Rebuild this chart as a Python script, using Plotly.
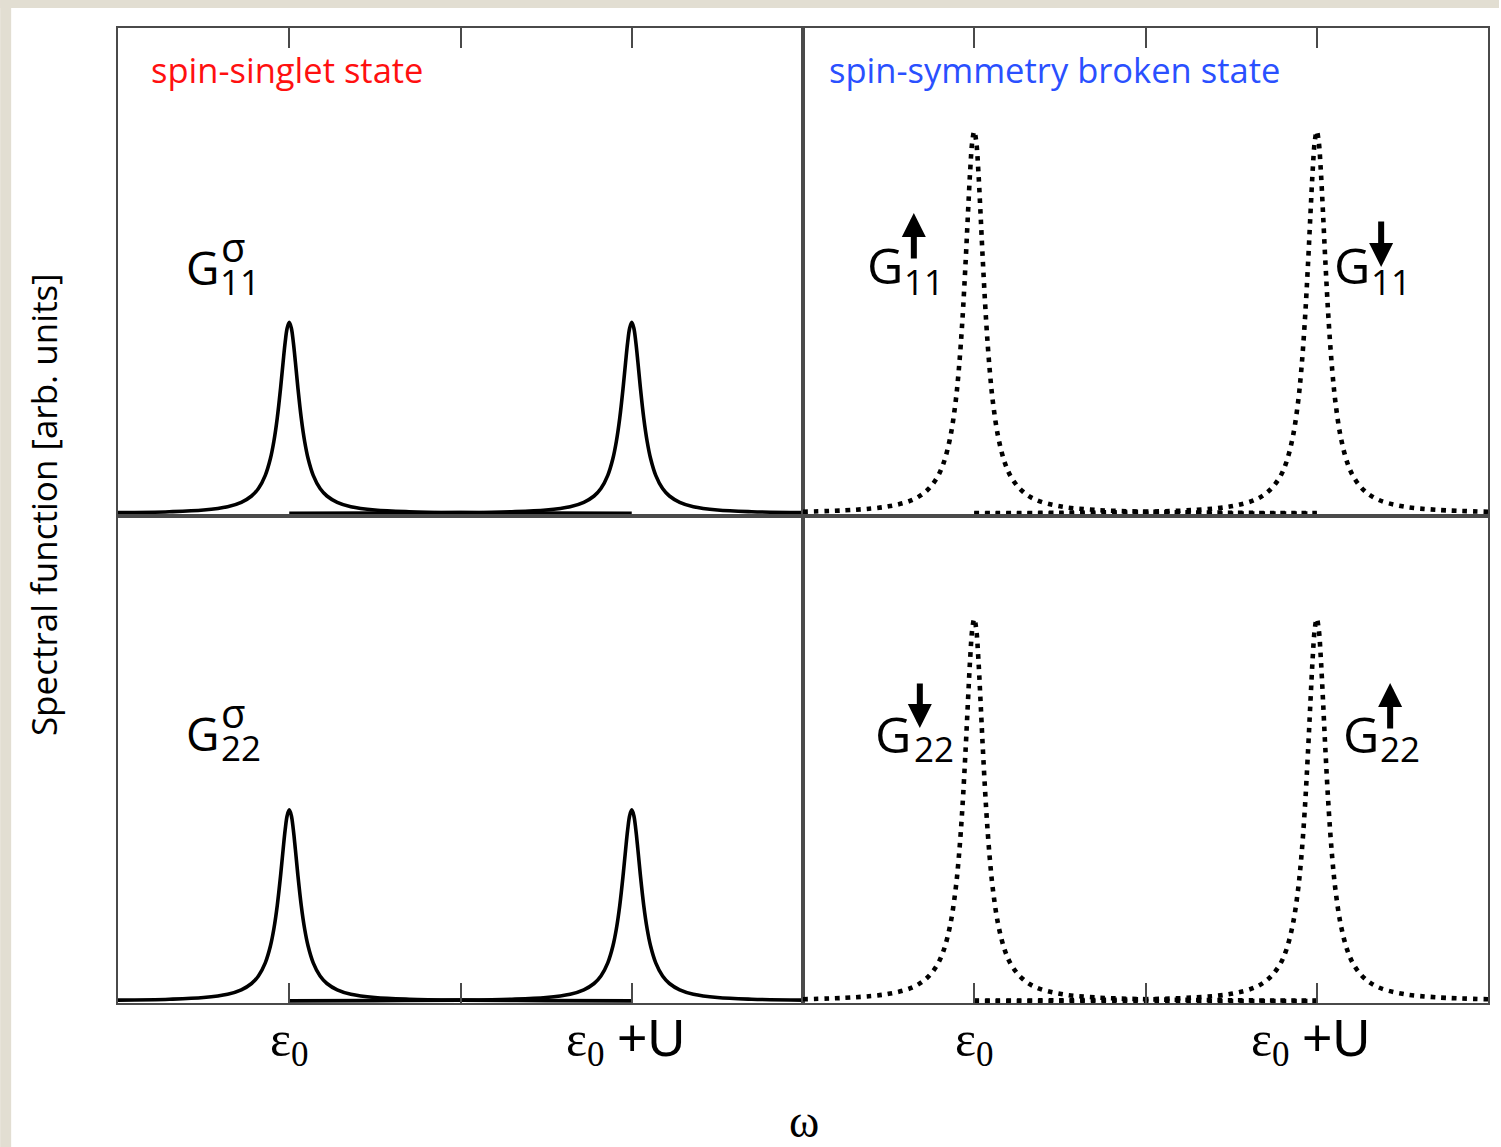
import plotly.graph_objects as go

# ---------------- data ----------------
# peak line-shape: offset from peak centre (units of U) -> fraction of peak height
profile_offset = [0.0, 0.006, 0.012, 0.018, 0.025, 0.035, 0.045, 0.055, 0.07, 0.09,
                  0.11, 0.14, 0.18, 0.25, 0.35, 0.5, 0.75, 1.0]
profile_frac = [1.0, 0.971, 0.895, 0.791, 0.662, 0.5, 0.377, 0.288, 0.2, 0.131,
                0.092, 0.059, 0.036, 0.019, 0.0099, 0.0049, 0.0022, 0.0012]

peak_centers = [0.0, 1.0]          # eps0 and eps0+U (in units of U)
singlet_heights = [0.5, 0.5]       # spin-singlet: half weight in each peak
broken_heights = [1.0, 1.0]        # spin-symmetry broken: full weight
peak_left_extent = [0.5, 1.0]
peak_right_extent = [1.0, 0.5]
flat_x = [0.0, 1.0]
flat_y = [0.0, 0.0]

tick_vals = [0.0, 0.5, 1.0]
tick_text = ["ε<sub>0</sub>", "",
             "ε<sub>0</sub> <span style='font-family:Liberation Sans, Arial;font-size:52px'>+U</span>&nbsp;"]
x_range = [-0.5, 1.5]
y_range = [-0.005, 1.27]


def peak_curve(center, height, left, right):
    xs, ys = [], []
    for o, f in zip(reversed(profile_offset), reversed(profile_frac)):
        if o <= left + 1e-9 and o > 0:
            xs.append(center - o)
            ys.append(height * f)
    for o, f in zip(profile_offset, profile_frac):
        if o <= right + 1e-9:
            xs.append(center + o)
            ys.append(height * f)
    return xs, ys


# ---------------- figure ----------------
W, H = 1501, 1147
L, R, T, B = 118, 11, 28, 144
PW, PH = W - L - R, H - T - B


def px(x):
    return (x - L) / PW


def py(y):
    return (H - B - y) / PH


fig = go.Figure()

solid = dict(color="black", width=3.6)
dotted = dict(color="black", width=4.6, dash="4.6px,6px")

for xa, ya in [("x", "y"), ("x3", "y3")]:
    for c, h, le, ri in zip(peak_centers, singlet_heights, peak_left_extent, peak_right_extent):
        xs, ys = peak_curve(c, h, le, ri)
        fig.add_trace(go.Scatter(x=xs, y=ys, mode="lines", line=solid, line_shape="spline",
                                 xaxis=xa, yaxis=ya, showlegend=False, hoverinfo="skip"))

for xa, ya in [("x2", "y2"), ("x4", "y4")]:
    fig.add_trace(go.Scatter(x=flat_x, y=flat_y, mode="lines", line=dotted,
                             xaxis=xa, yaxis=ya, showlegend=False, hoverinfo="skip"))
    for c, h, le, ri in zip(peak_centers, broken_heights, peak_left_extent, peak_right_extent):
        xs, ys = peak_curve(c, h, le, ri)
        fig.add_trace(go.Scatter(x=xs, y=ys, mode="lines", line=dotted, line_shape="spline",
                                 xaxis=xa, yaxis=ya, showlegend=False, hoverinfo="skip"))

frame = dict(showline=True, mirror=True, linecolor="#4a4a4a", linewidth=1.5,
             showgrid=False, zeroline=False)
xcommon = dict(range=x_range, tickvals=tick_vals, ticks="inside", ticklen=20,
               tickcolor="#4a4a4a", tickwidth=1.5, **frame)
ycommon = dict(range=y_range, showticklabels=False, ticks="", **frame)
tickfont = dict(family="Liberation Serif, Times New Roman, serif", size=50, color="black")

fig.update_layout(
    width=W, height=H,
    margin=dict(l=L, r=R, t=T, b=B),
    paper_bgcolor="white", plot_bgcolor="white",
    xaxis=dict(domain=[0, 0.5], anchor="y", side="top", showticklabels=False, **xcommon),
    xaxis2=dict(domain=[0.5, 1], anchor="y2", side="top", showticklabels=False, **xcommon),
    xaxis3=dict(domain=[0, 0.5], anchor="y3", side="bottom", showticklabels=True,
                ticktext=tick_text, ticklabelstandoff=-9, tickfont=tickfont, **xcommon),
    xaxis4=dict(domain=[0.5, 1], anchor="y4", side="bottom", showticklabels=True,
                ticktext=tick_text, ticklabelstandoff=-9, tickfont=tickfont, **xcommon),
    yaxis=dict(domain=[0.5, 1], anchor="x", **ycommon),
    yaxis2=dict(domain=[0.5, 1], anchor="x2", **ycommon),
    yaxis3=dict(domain=[0, 0.5], anchor="x3", **ycommon),
    yaxis4=dict(domain=[0, 0.5], anchor="x4", **ycommon),
)

# page background strips (beige paper border)
beige = "#e2ded2"
fig.add_shape(type="rect", xref="paper", yref="paper", x0=px(0), x1=px(11), y0=py(H), y1=py(0),
              fillcolor=beige, line_width=0, layer="below")
fig.add_shape(type="rect", xref="paper", yref="paper", x0=px(0), x1=px(W), y0=py(8), y1=py(0),
              fillcolor=beige, line_width=0, layer="below")

sans = "Open Sans, Liberation Sans, Arial, sans-serif"
ann = []


def text(x, y, s, size, color="black", family=sans, xanchor="center", angle=0):
    ann.append(dict(x=px(x), y=py(y), xref="paper", yref="paper", text=s, showarrow=False,
                    xanchor=xanchor, yanchor="middle", textangle=angle,
                    font=dict(family=family, size=size, color=color)))


def arrow(x, y_tail, y_tip):
    ann.append(dict(x=px(x), y=py(y_tip), xref="paper", yref="paper", text="",
                    showarrow=True, ax=0, ay=y_tail - y_tip, arrowhead=2, arrowsize=0.8,
                    arrowwidth=6, arrowcolor="black", standoff=0, startstandoff=0))


text(149, 69, "spin-singlet state", 34.5, color="#ff1010", xanchor="left")
text(828, 69, "spin-symmetry broken state", 34.5, color="#2a50ff", xanchor="left")

text(43, 505, "Spectral function [arb. units]", 35, angle=-90)
text(805, 1121, "ω", 46, family="Liberation Serif, Times New Roman, serif")

GS, SS, SIG = 46, 35, 40
# G11 sigma
text(203, 267, "G", GS)
text(240, 281, "11", SS)
text(233, 246, "σ", SIG)
# G22 sigma
text(203, 733, "G", GS)
text(241, 747, "22", SS)
text(233, 712, "σ", SIG)
# G up 11
text(886, 265, "G", GS + 4)
text(925, 281, "11", SS)
arrow(915, 260, 213)
# G down 11
text(1354, 265, "G", GS + 4)
text(1393, 281, "11", SS)
arrow(1383, 220, 267)
# G down 22
text(894, 734, "G", GS + 4)
text(935, 748, "22", SS)
arrow(921, 682, 728)
# G up 22
text(1363, 734, "G", GS + 4)
text(1402, 748, "22", SS)
arrow(1392, 730, 683)

fig.update_layout(annotations=ann)

fig.write_html("out.html")
